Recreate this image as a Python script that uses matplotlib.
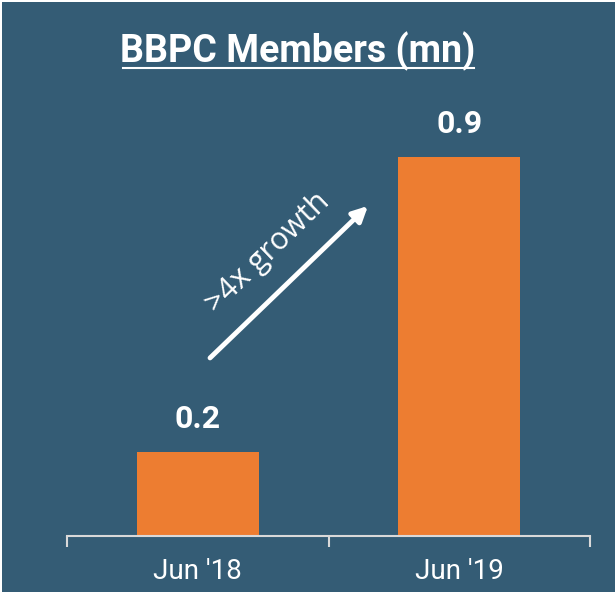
import matplotlib.pyplot as plt
from matplotlib.patches import Rectangle

categories = ["Jun '18", "Jun '19"]
members = [0.2, 0.9]
value_labels = ["0.2", "0.9"]
title = "BBPC Members (mn)"
growth_text = ">4x growth"

bg = "#345c75"
orange = "#ed7d31"
axis_col = "#d9d9d9"

fig = plt.figure(figsize=(6.15, 5.92), dpi=100)
fig.patch.set_facecolor("white")
fig.add_artist(Rectangle((0.003, 0), 1, 0.997, transform=fig.transFigure,
                         facecolor=bg, edgecolor="none", zorder=-10))

ax = fig.add_axes([67 / 615, 56 / 592, 523 / 615, 421 / 592])
ax.set_facecolor(bg)
ax.patch.set_alpha(0)

x = list(range(len(categories)))
ax.bar(x, members, width=0.465, color=orange, zorder=2)
for xi, v, lab in zip(x, members, value_labels):
    ax.annotate(lab, (xi, v), xytext=(0, 13), textcoords="offset points",
                ha="center", va="bottom", color="white", fontsize=23,
                fontweight="bold", family="Roboto")

ax.set_xlim(-0.5, len(categories) - 0.5)
ax.set_ylim(0, 1.0)

for s in ["top", "right", "left"]:
    ax.spines[s].set_visible(False)
ax.spines["bottom"].set_color(axis_col)
ax.spines["bottom"].set_linewidth(1.5)
ax.set_yticks([])
ax.set_xticks(x)
ax.set_xticklabels(categories, color="white", fontsize=20, family="Roboto")
ax.tick_params(axis="x", which="major", length=0, pad=16)
ax.set_xticks([-0.5, 0.5, 1.5], minor=True)
ax.tick_params(axis="x", which="minor", length=8, width=1.5, color=axis_col,
               direction="out")

# growth arrow
ax.annotate("", xy=(0.651, 0.784), xytext=(0.047, 0.423),
            arrowprops=dict(arrowstyle="-|>,head_length=0.9,head_width=0.45",
                            color="white", lw=3.5, shrinkA=0, shrinkB=0))
ax.text(0.268, 0.672, growth_text, rotation=44, rotation_mode="anchor",
        ha="center", va="center", color="white", fontsize=22,
        family="Open Sans")

fig.text(298 / 615, 1 - 51 / 592, title, ha="center", va="center",
         color="white", fontsize=27, fontweight="bold", family="Roboto")
fig.add_artist(plt.Line2D([123 / 615, 474 / 615], [1 - 68 / 592, 1 - 68 / 592],
                          transform=fig.transFigure, color="white", lw=1.5))

fig.savefig("out.png", dpi=100, facecolor=fig.get_facecolor())
